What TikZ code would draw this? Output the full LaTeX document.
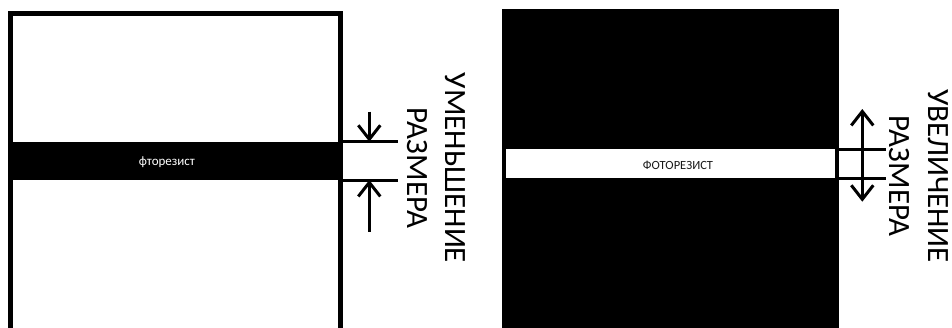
\documentclass[tikz,border=0pt]{standalone}
\usepackage{fontspec}
\setmainfont{Carlito}
\usetikzlibrary{arrows.meta}

\begin{document}
\begin{tikzpicture}[x=1pt,y=-1pt,line width=3pt,
    every node/.style={font=\fontsize{31}{38.5}\selectfont},
    barb/.style={-{Straight Barb[length=14pt,width=22pt]}},
    barbs/.style={{Straight Barb[length=14pt,width=22pt]}-{Straight Barb[length=14pt,width=22pt]}}]
    \useasboundingbox (0,0) rectangle (952,327);
    \clip (0,0) rectangle (952,327);
    % left: white field, black band
    \draw[line width=4.7pt] (10.3,340) -- (10.3,13.3) -- (340.3,13.3) -- (340.3,340);
    \fill (10,141.7) rectangle (340,180);
    \node[text=white,font=\fontsize{13}{15}\selectfont] (fr) at (167,162.5) {фторезист};
    \coordinate (la) at (340,141.7);
    \coordinate (lb) at (340,180);
    \draw (la) -- ++(58,0);
    \draw (lb) -- ++(58,0);
    \coordinate (lt) at (369.3,111.7);
    \coordinate (lta) at (369.3,141.7);
    \coordinate (lbt) at (369.3,231.7);
    \coordinate (lba) at (369.3,180);
    \draw[barb] (lt) -- (lta);
    \draw[barb] (lbt) -- (lba);
    \node[rotate=-90,align=center] (ltxt) at (436.5,168) {УМЕНЬШЕНИЕ\\РАЗМЕРА};
    % right: black field, white band
    \fill (501.7,9.3) rectangle (839,340);
    \fill[white] (506,149) rectangle (835,178.3);
    \node[text=black!90,font=\fontsize{12.5}{15}\selectfont] (rfr) at (678,165.5) {ФОТОРЕЗИСТ};
    \coordinate (ra) at (839,149.3);
    \coordinate (rb) at (839,178.3);
    \draw (ra) -- ++(46.7,0);
    \draw (rb) -- ++(46.7,0);
    \coordinate (rt) at (862.3,109);
    \coordinate (rbt) at (862.3,201.7);
    \draw[barbs] (rt) -- (rbt);
    \node[rotate=-90,align=center] (rtxt) at (919,176) {УВЕЛИЧЕНИЕ\\РАЗМЕРА};
\end{tikzpicture}
\end{document}
